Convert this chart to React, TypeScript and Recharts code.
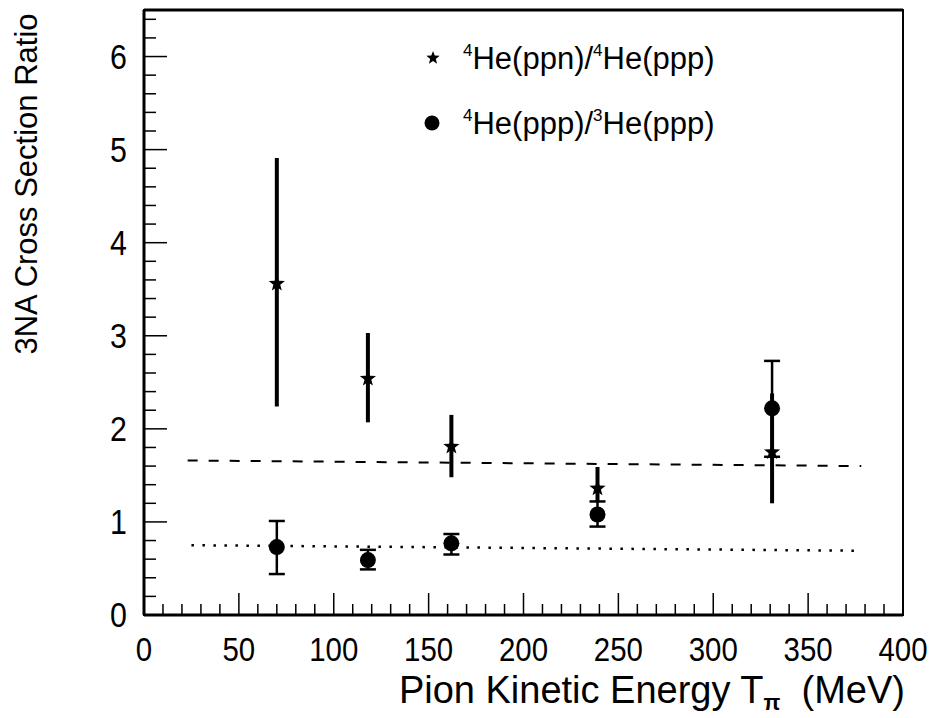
import React from 'react';
import {
  ScatterChart,
  Scatter,
  XAxis,
  YAxis,
  ErrorBar,
  ReferenceLine,
  ReferenceArea,
} from 'recharts';

// pion kinetic energy (MeV)
const energies = [70, 118, 162, 239, 331];

// 4He(ppn)/4He(ppp)
const ppnRatio = [3.56, 2.54, 1.81, 1.36, 1.75];
const ppnErrLow = [1.32, 0.47, 0.33, 0.15, 0.55];
const ppnErrHigh = [1.35, 0.49, 0.34, 0.23, 0.63];

// 4He(ppp)/3He(ppp)
const pppRatio = [0.73, 0.59, 0.77, 1.08, 2.22];
const pppErrLow = [0.29, 0.1, 0.12, 0.13, 0.52];
const pppErrHigh = [0.28, 0.11, 0.1, 0.14, 0.51];

// fitted constant lines (dashed / dotted)
const dashedFitX = [23, 378];
const dashedFitY = [1.66, 1.6];
const dottedFitX = [25, 378];
const dottedFitY = [0.75, 0.69];

const xTickLabels = [0, 50, 100, 150, 200, 250, 300, 350, 400];
const yTickLabels = [0, 1, 2, 3, 4, 5, 6];

const xTicks = Array.from({ length: 41 }, (_, i) => i * 10);
const yTicks = Array.from({ length: 33 }, (_, i) => Math.round(i * 2) / 10);

const ppnData = energies.map((x, i) => ({ x, y: ppnRatio[i], err: [ppnErrLow[i], ppnErrHigh[i]] }));
const pppData = energies.map((x, i) => ({ x, y: pppRatio[i], err: [pppErrLow[i], pppErrHigh[i]] }));

const FONT = '"Liberation Sans", Arial, sans-serif';

function starPath(cx: number, cy: number, r: number) {
  const ri = r * 0.42;
  const pts: string[] = [];
  for (let k = 0; k < 10; k++) {
    const rad = k % 2 === 0 ? r : ri;
    const a = -Math.PI / 2 + (k * Math.PI) / 5;
    pts.push(`${cx + rad * Math.cos(a)},${cy + rad * Math.sin(a)}`);
  }
  return `M${pts.join('L')}Z`;
}

const StarShape = (props: any) => {
  const { cx, cy } = props;
  if (cx == null || cy == null) return <g />;
  return <path d={starPath(cx, cy, 8.5)} fill="#000" />;
};

const DotShape = (props: any) => {
  const { cx, cy } = props;
  if (cx == null || cy == null) return <g />;
  return <circle cx={cx} cy={cy} r={8} fill="#000" />;
};

// tick marks point inwards, labels only on the major ones
const XTick = (props: any) => {
  const { x, y, payload } = props;
  const v = payload.value;
  const major = xTickLabels.includes(v);
  return (
    <g>
      <line x1={x} x2={x} y1={y} y2={y - (major ? 22 : 11)} stroke="#000" strokeWidth={1.5} />
      {major && (
        <text
          x={x}
          y={y + 46}
          textAnchor="middle"
          fontSize={31}
          fontFamily={FONT}
          fill="#000"
          transform={`translate(${x} ${y + 46}) scale(0.95 1.08) translate(${-x} ${-(y + 46)})`}
        >
          {v}
        </text>
      )}
    </g>
  );
};

const YTick = (props: any) => {
  const { x, y, payload } = props;
  const v = payload.value;
  const major = yTickLabels.includes(v);
  return (
    <g>
      <line x1={x} x2={x + (major ? 23 : 12)} y1={y} y2={y} stroke="#000" strokeWidth={1.5} />
      {major && (
        <text
          x={x - 17}
          y={y + 12}
          textAnchor="end"
          fontSize={32}
          fontFamily={FONT}
          fill="#000"
          transform={`translate(${x - 17} ${y + 12}) scale(0.95 1.08) translate(${-(x - 17)} ${-(y + 12)})`}
        >
          {v}
        </text>
      )}
    </g>
  );
};

export default function App() {
  return (
    <div style={{ position: 'absolute', left: 0, top: 0, width: 937, height: 718, background: '#fff' }}>
      <ScatterChart width={937} height={718} margin={{ top: 10, right: 34, bottom: 0, left: 0 }}>
        <XAxis
          type="number"
          dataKey="x"
          domain={[0, 400]}
          ticks={xTicks}
          interval={0}
          height={103}
          tickSize={0}
          tickMargin={0}
          tickLine={false}
          tick={<XTick />}
          axisLine={{ stroke: '#000', strokeWidth: 3 }}
        />
        <YAxis
          type="number"
          dataKey="y"
          domain={[0, 6.5]}
          ticks={yTicks}
          interval={0}
          width={144}
          tickSize={0}
          tickMargin={0}
          tickLine={false}
          tick={<YTick />}
          axisLine={{ stroke: '#000', strokeWidth: 3 }}
        />
        <ReferenceArea x1={0} x2={400} y1={0} y2={6.5} fill="none" stroke="#000" strokeWidth={2} />
        <ReferenceLine y={6.5} stroke="#000" strokeWidth={3} />
        <ReferenceLine
          segment={[
            { x: dashedFitX[0], y: dashedFitY[0] },
            { x: dashedFitX[1], y: dashedFitY[1] },
          ]}
          stroke="#000"
          strokeWidth={2}
          strokeDasharray="10 11"
        />
        <ReferenceLine
          segment={[
            { x: dottedFitX[0], y: dottedFitY[0] },
            { x: dottedFitX[1], y: dottedFitY[1] },
          ]}
          stroke="#000"
          strokeWidth={2.5}
          strokeDasharray="2.5 8.5"
        />
        <Scatter data={ppnData} shape={<StarShape />} isAnimationActive={false}>
          <ErrorBar dataKey="err" direction="y" width={0} stroke="#000" strokeWidth={4} isAnimationActive={false} />
        </Scatter>
        <Scatter data={pppData} shape={<DotShape />} isAnimationActive={false}>
          <ErrorBar dataKey="err" direction="y" width={8} stroke="#000" strokeWidth={2.5} isAnimationActive={false} />
        </Scatter>
      </ScatterChart>

      {/* axis titles */}
      <svg width={937} height={718} style={{ position: 'absolute', left: 0, top: 0, pointerEvents: 'none' }}>
        <text
          x={37}
          y={184}
          transform="rotate(-90, 37, 184)"
          textAnchor="middle"
          fontSize={31}
          fontFamily={FONT}
          fill="#000"
        >
          3NA Cross Section Ratio
        </text>
        <text x={905} y={703} textAnchor="end" fontSize={38} fontFamily={FONT} fill="#000">
          Pion Kinetic Energy T
          <tspan fontSize={22} fontWeight="bold" dy={7}>π</tspan>
          <tspan dy={-7}>{'\u00a0\u00a0(MeV)'}</tspan>
        </text>

        {/* legend */}
        <path d={starPath(433, 58, 7)} fill="#000" />
        <text x={463} y={69} fontSize={31} fontFamily={FONT} fill="#000">
          <tspan fontSize={17} dy={-13}>4</tspan>
          <tspan dy={13}>He(ppn)/</tspan>
          <tspan fontSize={17} dy={-13}>4</tspan>
          <tspan dy={13}>He(ppp)</tspan>
        </text>
        <circle cx={432} cy={123} r={7.5} fill="#000" />
        <text x={463} y={134} fontSize={31} fontFamily={FONT} fill="#000">
          <tspan fontSize={17} dy={-13}>4</tspan>
          <tspan dy={13}>He(ppp)/</tspan>
          <tspan fontSize={17} dy={-13}>3</tspan>
          <tspan dy={13}>He(ppp)</tspan>
        </text>
      </svg>
    </div>
  );
}
